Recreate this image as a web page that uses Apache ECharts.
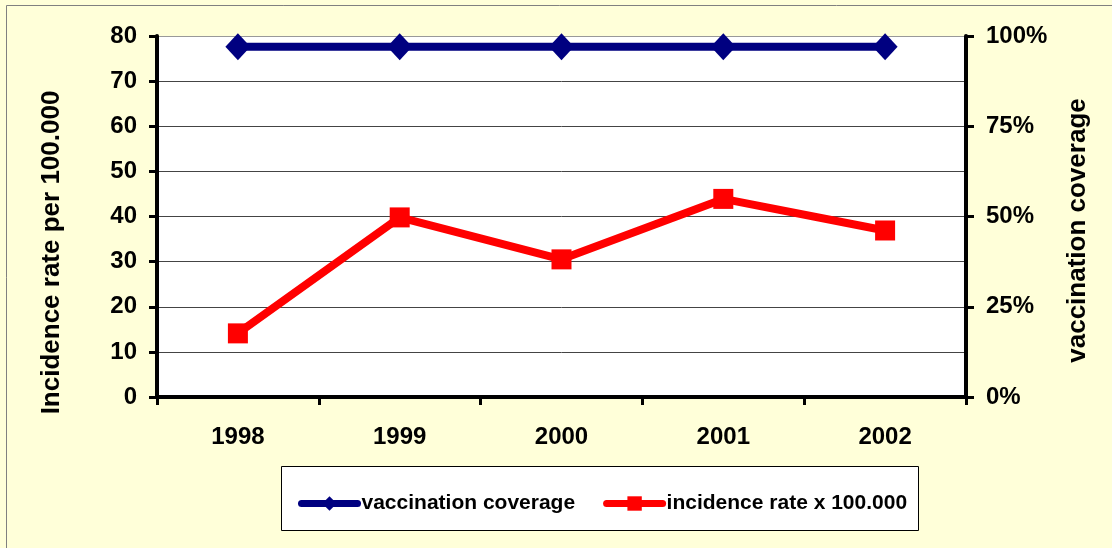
<!DOCTYPE html>
<html><head><meta charset="utf-8">
<script src="https://cdn.jsdelivr.net/npm/echarts@6/dist/echarts.min.js"></script>
<style>html,body{margin:0;padding:0;background:#FFFFD9;}#c{width:1112px;height:548px;}</style>
</head><body><div id="c"></div>
<script>
const years = ['1998','1999','2000','2001','2002'];
const coverage = [97, 97, 97, 97, 97];
const incidence = [14.1, 39.8, 30.5, 43.9, 36.9];
const leftTicks = [0, 80, 10];
const rightTicks = [0, 100, 25];

const chart = echarts.init(document.getElementById('c'));
const F = 'Liberation Sans, Arial, sans-serif';
chart.setOption({
  backgroundColor: '#FFFFD9',
  animation: false,
  graphic: [
    {type:'rect', shape:{x:6.5,y:5.5,width:1200,height:600}, style:{fill:'none', stroke:'#808080', lineWidth:1}, z:-1},
    {type:'rect', shape:{x:281.5,y:466.5,width:637,height:64}, style:{fill:'#fff', stroke:'#000', lineWidth:1}, z:0}
  ],
  grid: {left:157, right:146, top:36, bottom:151, show:true, backgroundColor:'#fff', borderWidth:0},
  legend: {
    left: 293, top: 488, itemWidth: 56, itemHeight: 18, itemGap: 28,
    lineStyle: {width: 7, cap: 'round'},
    textStyle: {fontFamily:F, fontWeight:'bold', fontSize:21, color:'#000', padding:[0,0,0,-1]},
    data: ['vaccination coverage','incidence rate x 100.000'], z: 5
  },
  xAxis: {
    type:'category', data: years, boundaryGap:true,
    axisLine:{lineStyle:{color:'#000', width:4}},
    axisTick:{show:true, interval:0, length:8, lineStyle:{color:'#000', width:3}},
    axisLabel:{fontFamily:F, fontWeight:'bold', fontSize:24, color:'#000', margin:28}
  },
  yAxis: [
    {type:'value', min:leftTicks[0], max:leftTicks[1], interval:leftTicks[2],
     name:'Incidence rate per 100.000', nameLocation:'middle', nameGap:92, nameRotate:90,
     nameTextStyle:{fontFamily:F, fontWeight:'bold', fontSize:26, color:'#000', padding:[0,72,0,0]},
     axisLine:{show:true, lineStyle:{color:'#000', width:4}},
     axisTick:{show:true, length:8, lineStyle:{color:'#000', width:3}},
     axisLabel:{fontFamily:F, fontWeight:'bold', fontSize:24, color:'#000', margin:20},
     splitLine:{show:true, lineStyle:{color:['#444','#444','#444','#444','#444','#444','#444','#444','#999'], width:1}}
    },
    {type:'value', min:rightTicks[0], max:rightTicks[1], interval:rightTicks[2], position:'right',
     name:'vaccination coverage', nameLocation:'middle', nameGap:99, nameRotate:90,
     nameTextStyle:{fontFamily:F, fontWeight:'bold', fontSize:26, color:'#000', padding:[0,28,0,0]},
     axisLine:{show:true, lineStyle:{color:'#000', width:4}},
     axisTick:{show:true, length:8, inside:false, lineStyle:{color:'#000', width:3}},
     axisLabel:{fontFamily:F, fontWeight:'bold', fontSize:24, color:'#000', margin:20, formatter:'{value}%'},
     splitLine:{show:false}
    }
  ],
  series: [
    {name:'vaccination coverage', type:'line', yAxisIndex:1, data:coverage,
     symbol:'diamond', symbolSize:[25,27], itemStyle:{color:'#000080'},
     lineStyle:{color:'#000080', width:8}, z:3},
    {name:'incidence rate x 100.000', type:'line', yAxisIndex:0, data:incidence,
     symbol:'rect', symbolSize:20, itemStyle:{color:'#FF0000'},
     lineStyle:{color:'#FF0000', width:8}, z:4}
  ]
});
</script></body></html>
